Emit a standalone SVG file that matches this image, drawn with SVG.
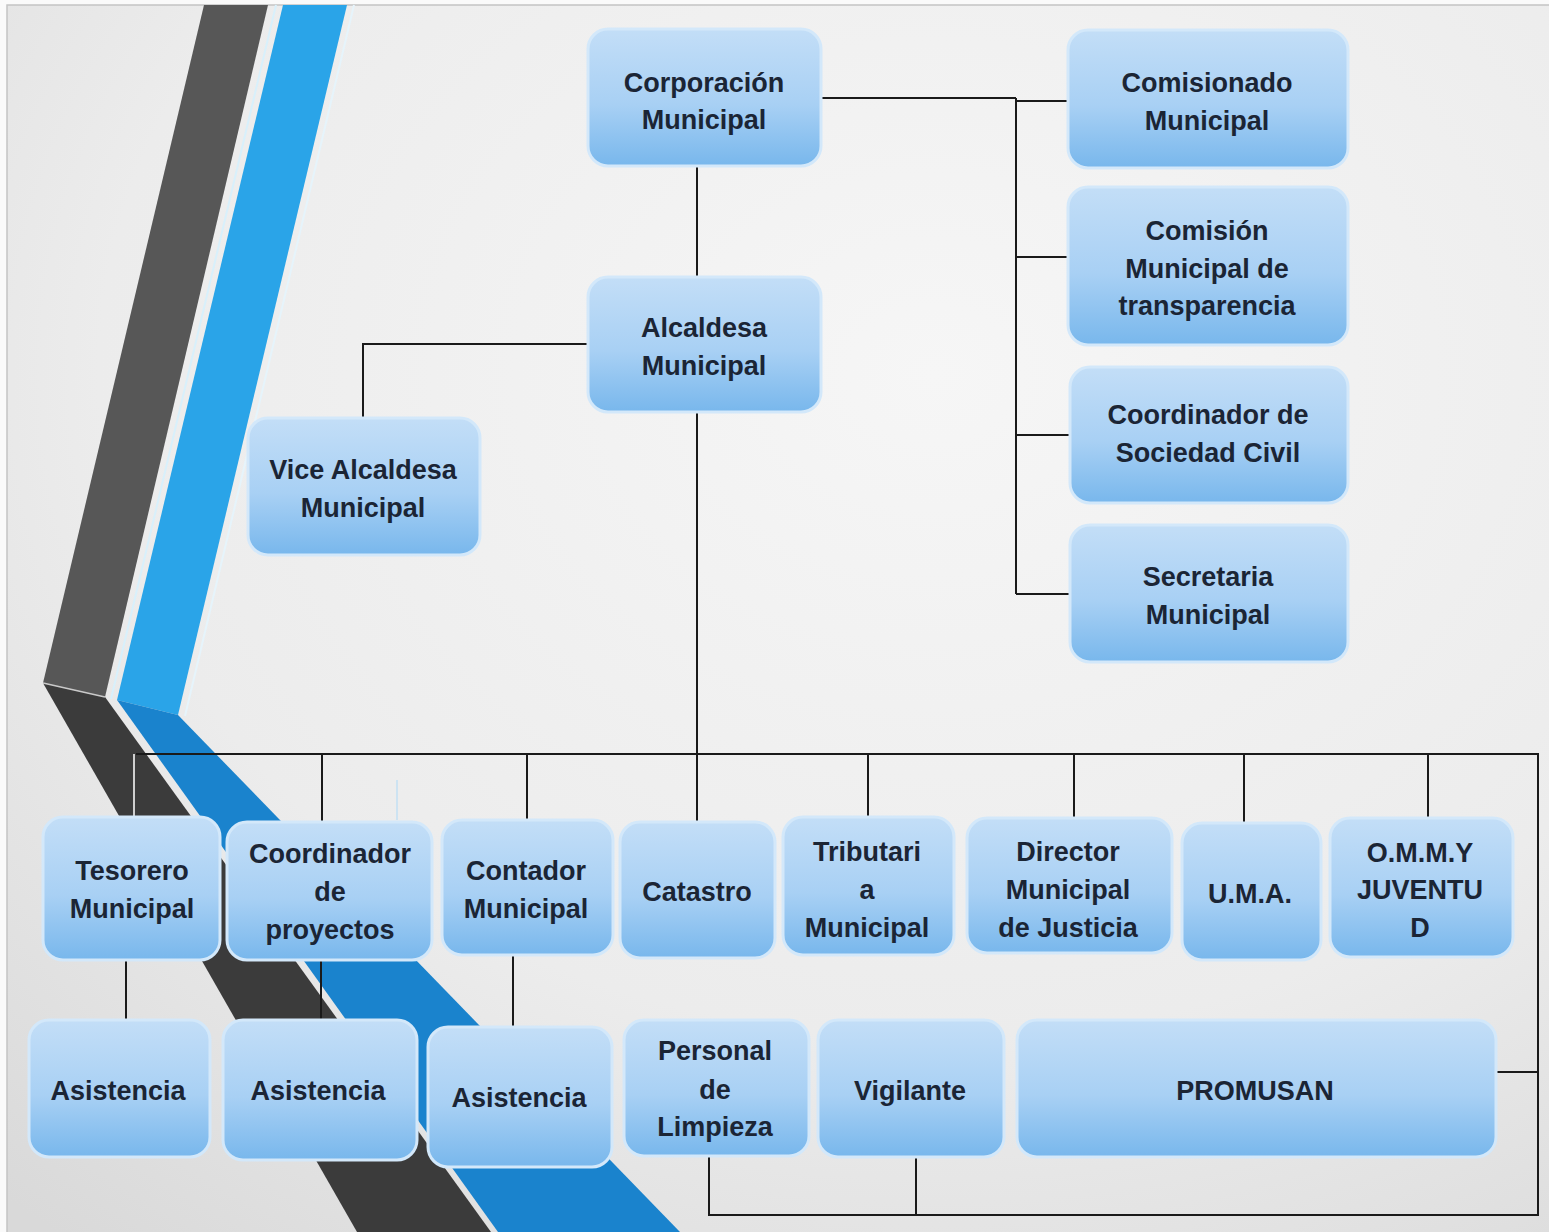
<svg xmlns="http://www.w3.org/2000/svg" width="1549" height="1232" viewBox="0 0 1549 1232">
<defs>
<radialGradient id="bg" cx="0.6" cy="0.3" r="0.9">
<stop offset="0" stop-color="#f6f6f6"/>
<stop offset="0.6" stop-color="#ececec"/>
<stop offset="1" stop-color="#d9d9d9"/>
</radialGradient>
<linearGradient id="box" x1="0" y1="0" x2="0" y2="1">
<stop offset="0" stop-color="#c3def7"/>
<stop offset="0.55" stop-color="#a8d0f4"/>
<stop offset="1" stop-color="#78b7ec"/>
</linearGradient>
<style>
.n rect{fill:url(#box);stroke:#d3e8fa;stroke-width:3}
.n text{font-family:"Liberation Sans",Arial,sans-serif;font-weight:bold;font-size:27px;fill:#1b2535;text-anchor:middle}
.c line,.c polyline{stroke:#1a1a1a;stroke-width:2;fill:none}
</style>
</defs>
<rect x="0" y="0" width="1549" height="1232" fill="#fafafa"/>
<rect x="7" y="5" width="1545" height="1230" fill="url(#bg)" stroke="#c4c4c4" stroke-width="1.5"/>
<g id="bands">
<polygon points="204,5 268,5 105,697 43,683" fill="#575757"/>
<polygon points="43,683 105,697 491,1232 357,1232" fill="#3b3b3b"/>
<line x1="43" y1="683" x2="105" y2="697" stroke="#c9c9c9" stroke-width="1.5"/>
<polygon points="283,5 347,5 178,715 117,700" fill="#2aa4e8"/>
<polygon points="117,700 178,715 680,1232 498,1232" fill="#1a83cd"/>
<line x1="276" y1="5" x2="111" y2="699" stroke="#d8f0fb" stroke-width="2"/>
<line x1="354" y1="5" x2="185" y2="716" stroke="#e6f4fb" stroke-width="2"/>
</g>
<g id="connectors" class="c">
<polyline points="821,98 1016,98"/>
<line x1="1016" y1="98" x2="1016" y2="594"/>
<line x1="1016" y1="101" x2="1068" y2="101"/>
<line x1="1016" y1="257" x2="1068" y2="257"/>
<line x1="1016" y1="435" x2="1070" y2="435"/>
<line x1="1016" y1="594" x2="1070" y2="594"/>
<line x1="697" y1="166" x2="697" y2="277"/>
<line x1="697" y1="412" x2="697" y2="822"/>
<polyline points="588,344 363,344 363,418"/>
<polyline points="136,754 1538,754 1538,1215 709,1215 709,1155"/>
<line x1="916" y1="1215" x2="916" y2="1157"/>
<line x1="1497" y1="1072" x2="1538" y2="1072"/>
<line x1="322" y1="754" x2="322" y2="822"/>
<line x1="527" y1="754" x2="527" y2="820"/>
<line x1="868" y1="754" x2="868" y2="817"/>
<line x1="1074" y1="754" x2="1074" y2="818"/>
<line x1="1244" y1="754" x2="1244" y2="823"/>
<line x1="1428" y1="754" x2="1428" y2="818"/>
<line x1="126" y1="960" x2="126" y2="1020"/>
<line x1="321" y1="960" x2="321" y2="1020"/>
<line x1="513" y1="955" x2="513" y2="1027"/>
<line x1="134" y1="754" x2="134" y2="817" style="stroke:#cfcfcf"/>
<line x1="397" y1="780" x2="397" y2="820" style="stroke:#cde3f2"/>
</g>
<g id="corporacion" class="n"><rect x="588" y="29" width="233" height="137" rx="20"/><text x="704" y="92">Corporación</text><text x="704" y="129">Municipal</text></g>
<g id="alcaldesa" class="n"><rect x="588" y="277" width="233" height="135" rx="20"/><text x="704" y="337">Alcaldesa</text><text x="704" y="375">Municipal</text></g>
<g id="vice" class="n"><rect x="248" y="418" width="232" height="137" rx="20"/><text x="363" y="479">Vice Alcaldesa</text><text x="363" y="517">Municipal</text></g>
<g id="comisionado" class="n"><rect x="1068" y="30" width="280" height="138" rx="20"/><text x="1207" y="92">Comisionado</text><text x="1207" y="130">Municipal</text></g>
<g id="comision" class="n"><rect x="1068" y="187" width="280" height="158" rx="20"/><text x="1207" y="240">Comisión</text><text x="1207" y="278">Municipal de</text><text x="1207" y="315">transparencia</text></g>
<g id="coordinador-sc" class="n"><rect x="1070" y="367" width="278" height="136" rx="20"/><text x="1208" y="424">Coordinador de</text><text x="1208" y="462">Sociedad Civil</text></g>
<g id="secretaria" class="n"><rect x="1070" y="525" width="278" height="137" rx="20"/><text x="1208" y="586">Secretaria</text><text x="1208" y="624">Municipal</text></g>
<g id="tesorero" class="n"><rect x="43" y="817" width="177" height="143" rx="20"/><text x="132" y="880">Tesorero</text><text x="132" y="918">Municipal</text></g>
<g id="coordinador-proyectos" class="n"><rect x="227" y="822" width="205" height="138" rx="20"/><text x="330" y="863">Coordinador</text><text x="330" y="901">de</text><text x="330" y="939">proyectos</text></g>
<g id="contador" class="n"><rect x="442" y="820" width="171" height="135" rx="20"/><text x="526" y="880">Contador</text><text x="526" y="918">Municipal</text></g>
<g id="catastro" class="n"><rect x="620" y="822" width="155" height="136" rx="20"/><text x="697" y="901">Catastro</text></g>
<g id="tributaria" class="n"><rect x="783" y="817" width="171" height="138" rx="20"/><text x="867" y="861">Tributari</text><text x="867" y="899">a</text><text x="867" y="937">Municipal</text></g>
<g id="director" class="n"><rect x="967" y="818" width="205" height="135" rx="20"/><text x="1068" y="861">Director</text><text x="1068" y="899">Municipal</text><text x="1068" y="937">de Justicia</text></g>
<g id="uma" class="n"><rect x="1182" y="823" width="139" height="137" rx="20"/><text x="1250" y="903">U.M.A.</text></g>
<g id="ommy" class="n"><rect x="1330" y="818" width="183" height="139" rx="20"/><text x="1420" y="862">O.M.M.Y</text><text x="1420" y="899">JUVENTU</text><text x="1420" y="937">D</text></g>
<g id="asistencia1" class="n"><rect x="29" y="1020" width="181" height="137" rx="20"/><text x="118" y="1100">Asistencia</text></g>
<g id="asistencia2" class="n"><rect x="223" y="1020" width="194" height="140" rx="20"/><text x="318" y="1100">Asistencia</text></g>
<g id="asistencia3" class="n"><rect x="428" y="1027" width="184" height="140" rx="20"/><text x="519" y="1107">Asistencia</text></g>
<g id="personal" class="n"><rect x="624" y="1020" width="185" height="136" rx="20"/><text x="715" y="1060">Personal</text><text x="715" y="1099">de</text><text x="715" y="1136">Limpieza</text></g>
<g id="vigilante" class="n"><rect x="818" y="1020" width="186" height="137" rx="20"/><text x="910" y="1100">Vigilante</text></g>
<g id="promusan" class="n"><rect x="1017" y="1020" width="479" height="137" rx="20"/><text x="1255" y="1100">PROMUSAN</text></g>
</svg>
